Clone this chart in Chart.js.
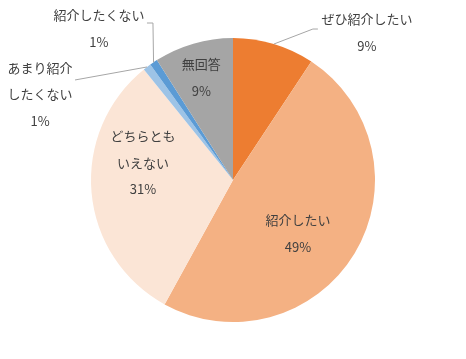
<!DOCTYPE html>
<html>
<head>
<meta charset="utf-8">
<script src="https://cdn.jsdelivr.net/npm/chart.js@4"></script>
<style>
  html, body { margin: 0; padding: 0; background: #fff; }
  #wrap { width: 466px; height: 359px; }
</style>
</head>
<body>
<div id="wrap"><canvas id="pieChart" width="466" height="359"></canvas></div>
<script>
// categories (line breaks as in the picture) and shares in %
const categories = ['ぜひ紹介したい', '紹介したい', ['どちらとも', 'いえない'], ['あまり紹介', 'したくない'], '紹介したくない', '無回答'];
const shares = [9.3, 48.7, 31.2, 0.9, 0.9, 9.0];
const sliceColors = ['#ED7D31', '#F4B183', '#FBE5D6', '#9DC3E6', '#5B9BD5', '#A5A5A5'];

// label placement: inside labels sit at a fraction of the radius on the slice's mid angle,
// outside labels hang off the outer edge with a leader line
const labelLayout = [
    { outside: true, off: [93, -11.5], leader: [[39, -15], [44, -15]] },
    { outside: false, f: 0.6, off: [-8, 9.5] },
    { outside: false, f: 0.64, off: [0.5, -25] },
    { outside: true, off: [-107, 27.5], leader: [[-72, 13]] },
    { outside: true, off: [-54.6, -33.8], leader: [[-0.6, -39.3], [-6.6, -39.3]] },
    { outside: false, f: 0.75, off: [-2, 0] }
];

const lineGap = 26.5;

const pieLabels = {
    id: 'pieLabels',
    afterDatasetsDraw(chart) {
        const c = chart.ctx;
        const meta = chart.getDatasetMeta(0);
        const data = chart.data.datasets[0].data;
        const total = data.reduce((a, b) => a + b, 0);
        c.save();
        c.font = '13px "Noto Sans CJK JP", "Noto Sans", sans-serif';
        c.textAlign = 'center';
        c.textBaseline = 'middle';
        meta.data.forEach((arc, i) => {
            const p = arc.getProps(['x', 'y', 'startAngle', 'endAngle', 'outerRadius'], true);
            const mid = (p.startAngle + p.endAngle) / 2;
            const L = labelLayout[i];
            const r = L.outside ? p.outerRadius : p.outerRadius * L.f;
            const ax = p.x + Math.cos(mid) * r;
            const ay = p.y + Math.sin(mid) * r;
            if (L.outside) {
                c.strokeStyle = '#A6A6A6';
                c.lineWidth = 1;
                c.beginPath();
                c.moveTo(ax, ay);
                L.leader.forEach(pt => c.lineTo(ax + pt[0], ay + pt[1]));
                c.stroke();
            }
            const name = chart.data.labels[i];
            const lines = (Array.isArray(name) ? name.slice() : [name]);
            lines.push(Math.round(data[i] / total * 100) + '%');
            const cx = ax + L.off[0];
            const cy = ay + L.off[1];
            const top = cy - (lines.length - 1) * lineGap / 2;
            c.fillStyle = '#404040';
            lines.forEach((t, k) => c.fillText(t, cx, top + k * lineGap));
        });
        c.restore();
    }
};

new Chart(document.getElementById('pieChart').getContext('2d'), {
    type: 'pie',
    data: {
        labels: categories,
        datasets: [{
            data: shares,
            backgroundColor: sliceColors,
            borderWidth: 0
        }]
    },
    options: {
        responsive: false,
        animation: false,
        layout: { padding: { top: 38, bottom: 37, left: 0, right: 0 } },
        plugins: {
            legend: { display: false },
            tooltip: { enabled: false }
        }
    },
    plugins: [pieLabels]
});
</script>
</body>
</html>
